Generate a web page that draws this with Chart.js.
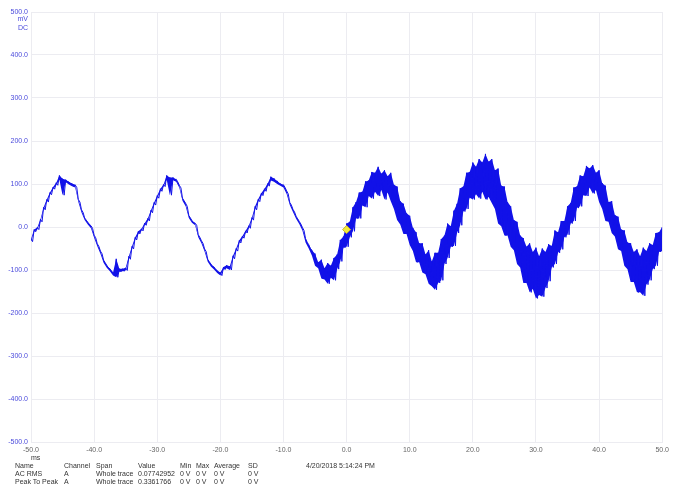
<!DOCTYPE html>
<html>
<head>
<meta charset="utf-8">
<script src="https://cdn.jsdelivr.net/npm/chart.js@4.4.1/dist/chart.umd.min.js"></script>
<style>
  body { margin: 0; background: #fff; }
  #wrap { position: relative; width: 673px; height: 498px; overflow: hidden; }
  #charts { position: absolute; left: 0; top: 0; }
  .txt {
    position: absolute;
    font-family: 'Liberation Sans', Arial, sans-serif;
    font-size: 7px;
    line-height: 8px;
    white-space: nowrap;
    color: #333;
  }
  .unit { color: #4b4bdc; text-align: right; width: 28px; left: 0; }
</style>
</head>
<body>
<div id="wrap">
  <canvas id="charts" width="673" height="498"></canvas>
</div>
<script>
// trace sampled every 0.5 ms from -50 ms, min/max of each sample bin (mV)
const startMs = -50;
const sampleStepMs = 0.5;

const upperMv = [
  -28, -6, -1, 18, 46, 64, 80, 93, 103, 120,
  112, 110, 105, 101, 98, 64, 40, 21, 11, 3,
  -19, -39, -56, -77, -89, -97, -106, -74, -97, -97,
  -95, -68, -45, -24, -10, -4, 9, 20, 39, 57,
  73, 89, 99, 120, 115, 115, 111, 97, 67, 55,
  27, 15, 9, -18, -32, -51, -75, -86, -93, -101,
  -106, -93, -89, -91, -67, -50, -31, -21, -9, 3,
  22, 48, 65, 79, 89, 101, 117, 113, 107, 101,
  98, 84, 57, 41, 25, 13, -1, -27, -41, -54,
  -62, -82, -76, -96, -84, -90, -72, -64, -30, -22,
  8, 12, 46, 58, 80, 82, 106, 108, 128, 126,
  140, 124, 132, 118, 126, 98, 94, 60, 54, 32,
  26, -2, -12, -38, -38, -64, -54, -80, -60, -60,
  -28, -20, 8, 2, 38, 54, 90, 94, 126, 128,
  150, 140, 158, 150, 170, 152, 158, 132, 136, 96,
  94, 58, 48, 16, 12, -20, -26, -46, -38, -58,
  -48, -68, -50, -58, -40, -44, -8, -12, 14, 14,
  48, 56, 92, 94, 120, 118, 142, 136, 144, 126,
  132, 102, 96, 58, 60, 28, 24, -6, -8, -36,
  -38, -58, -52, -68, -48, -56, -38, -42, -14, -12,
  0
];

const lowerMv = [
  -34, -11, -6, 12, 40, 58, 75, 88, 97, 110,
  74, 104, 99, 95, 92, 58, 34, 16, 6, -3,
  -25, -45, -62, -83, -95, -103, -113, -117, -104, -103,
  -101, -75, -51, -30, -16, -9, 4, 14, 33, 51,
  67, 83, 94, 110, 74, 109, 105, 91, 61, 48,
  21, 10, 4, -24, -38, -57, -81, -92, -99, -107,
  -113, -99, -96, -100, -74, -56, -37, -26, -14, -3,
  16, 40, 59, 73, 83, 95, 108, 105, 100, 96,
  92, 77, 51, 35, 19, 7, -8, -36, -50, -66,
  -90, -96, -120, -122, -132, -118, -124, -98, -80, -48,
  -46, -24, -10, 20, 20, 50, 46, 72, 66, 82,
  72, 86, 64, 80, 60, 42, 16, 6, -16, -16,
  -42, -56, -82, -82, -106, -110, -132, -138, -146, -130,
  -124, -86, -72, -46, -44, -14, 4, 36, 42, 68,
  64, 76, 66, 82, 64, 70, 56, 42, 8, 2,
  -20, -20, -46, -54, -86, -94, -130, -130, -152, -144,
  -166, -158, -162, -142, -126, -94, -86, -60, -52, -24,
  -18, 8, 14, 44, 48, 74, 72, 92, 78, 86,
  58, 42, 14, 12, -14, -22, -52, -56, -90, -98,
  -128, -128, -152, -152, -160, -134, -124, -98, -90, -58,
  -56
];

const markerMs = [0];
const markerMv = [-6];

const tableHeader = ['Name', 'Channel', 'Span', 'Value', 'Min', 'Max', 'Average', 'SD'];
const acRmsRow = ['AC RMS', 'A', 'Whole trace', '0.07742952', '0 V', '0 V', '0 V', '0 V'];
const peakToPeakRow = ['Peak To Peak', 'A', 'Whole trace', '0.3361766', '0 V', '0 V', '0 V', '0 V'];
const timestamp = '4/20/2018 5:14:24 PM';

const FONT = "'Liberation Sans', Arial, sans-serif";
const TRACE_COLOR = '#1212e8';
const GRID_COLOR = '#ececf1';

function sampleTime(i) {
  return startMs + i * sampleStepMs;
}

function buildTrace() {
  // each bin drawn as max then min, like the scope's min/max display
  let points = [];
  upperMv.forEach((hi, i) => {
    let t = sampleTime(i);
    points.push({ x: t, y: hi });
    points.push({ x: t + sampleStepMs / 2, y: lowerMv[i] });
  });
  return points;
}

function envelope(values) {
  return values.map((v, i) => ({ x: sampleTime(i), y: v }));
}

function addText(text, left, top, cls) {
  let el = document.createElement('div');
  el.className = 'txt' + (cls ? ' ' + cls : '');
  el.style.top = top + 'px';
  if (left !== null) el.style.left = left + 'px';
  el.innerText = text;
  document.getElementById('wrap').appendChild(el);
}

function drawTable() {
  const columnX = [15, 64, 96, 138, 180, 196, 214, 248];
  [tableHeader, acRmsRow, peakToPeakRow].forEach((row, r) => {
    row.forEach((cell, c) => {
      addText(cell, columnX[c], 462 + r * 8);
    });
  });
  addText(timestamp, 306, 462);
}

addText('mV', null, 15, 'unit');
addText('DC', null, 24, 'unit');
addText('ms', 31, 454);
drawTable();

let markerData = markerMs.map((t, i) => ({ x: t, y: markerMv[i] }));

let ctx = document.getElementById('charts').getContext('2d');
let myChart = new Chart(ctx, {
  type: 'line',
  data: {
    datasets: [
      {
        data: markerData,
        showLine: false,
        pointStyle: 'rectRot',
        pointRadius: 4,
        backgroundColor: '#f3ea3c',
        borderColor: '#c9b52c',
        borderWidth: 1,
      },
      {
        data: buildTrace(),
        borderColor: TRACE_COLOR,
        borderWidth: 1,
        pointRadius: 0,
        tension: 0,
        fill: false,
      },
      {
        data: envelope(upperMv),
        borderWidth: 0,
        pointRadius: 0,
        tension: 0,
        fill: false,
      },
      {
        data: envelope(lowerMv),
        backgroundColor: TRACE_COLOR,
        borderWidth: 0,
        pointRadius: 0,
        tension: 0,
        fill: '-1',
      },
    ],
  },
  options: {
    responsive: false,
    animation: false,
    events: [],
    layout: {
      padding: { top: 12, right: 9, left: 0, bottom: 0 },
    },
    plugins: {
      legend: { display: false },
      tooltip: { enabled: false },
    },
    scales: {
      x: {
        type: 'linear',
        min: -50,
        max: 50,
        afterFit: (scale) => {
          scale.height = 56;
        },
        grid: { color: GRID_COLOR, drawTicks: false },
        border: { color: GRID_COLOR },
        ticks: {
          stepSize: 10,
          padding: 4,
          maxRotation: 0,
          color: '#666',
          font: { size: 7, family: FONT },
          callback: (v) => v.toFixed(1),
        },
      },
      y: {
        type: 'linear',
        min: -500,
        max: 500,
        afterFit: (scale) => {
          scale.width = 31;
        },
        grid: { color: GRID_COLOR, drawTicks: false },
        border: { color: GRID_COLOR },
        ticks: {
          stepSize: 100,
          padding: 3,
          color: '#4b4bdc',
          font: { size: 7, family: FONT },
          callback: (v) => v.toFixed(1),
        },
      },
    },
  },
});
</script>
</body>
</html>
